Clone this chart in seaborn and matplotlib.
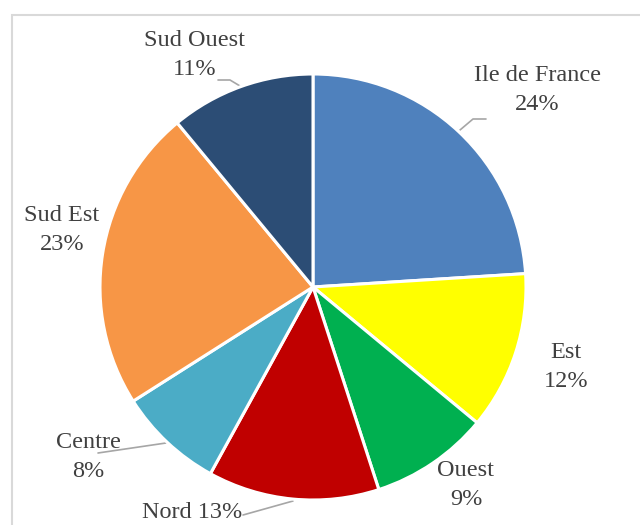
import numpy as np
import matplotlib
matplotlib.use("Agg")
import matplotlib.pyplot as plt
import seaborn as sns
from matplotlib.patches import Rectangle

# data
regions = ["Ile de France", "Est", "Ouest", "Nord", "Centre", "Sud Est", "Sud Ouest"]
shares = [24, 12, 9, 13, 8, 23, 11]
colors = ["#4F81BD", "#FFFF00", "#00B050", "#C00000", "#4BACC6", "#F79646", "#2C4D75"]

sns.set_theme(style="white")
plt.rcParams["font.family"] = ["Liberation Serif", "DejaVu Serif"]

W, H = 640, 525
CX, CY, R = 313, 287, 213

fig = plt.figure(figsize=(W / 100, H / 100), dpi=100)
ax = fig.add_axes([(CX - R) / W, (H - CY - R) / H, 2 * R / W, 2 * R / H])

ax.pie(shares, colors=colors, startangle=90, counterclock=False, radius=1,
       wedgeprops=dict(edgecolor="white", linewidth=2.2))
ax.set_xlim(-1, 1)
ax.set_ylim(-1, 1)
ax.set_aspect("equal")
ax.axis("off")


def px(x, y):
    return (x - CX) / R, (CY - y) / R


# label text centres (pixels) and leader lines
label_pos = {
    "Ile de France": (537, 90, False),
    "Est": (566, 367, False),
    "Ouest": (466, 485, False),
    "Nord": (192, 512, True),
    "Centre": (88, 457, False),
    "Sud Est": (62, 230, False),
    "Sud Ouest": (195, 55, False),
}
leaders = {
    "Ile de France": [(486, 119), (473, 119), (460, 130)],
    "Sud Ouest": [(218, 80), (230, 80), (240, 86)],
    "Centre": [(98, 453), (166, 443)],
    "Nord": [(243, 515), (293, 501)],
}

for name, (lx, ly, one_line) in label_pos.items():
    pct = shares[regions.index(name)]
    txt = f"{name} {pct}%" if one_line else f"{name}\n{pct}%"
    x, y = px(lx, ly)
    ax.text(x, y, txt, ha="center", va="center", fontsize=17.5,
            color="#404040", linespacing=1.45, clip_on=False)

for name, pts in leaders.items():
    xy = np.array([px(*p) for p in pts])
    ax.plot(xy[:, 0], xy[:, 1], color="#A6A6A6", lw=1.2, clip_on=False, zorder=0)

# chart frame
fig.patches.append(Rectangle((12 / W, -0.05), 1.1, (H - 15) / H + 0.05,
                             transform=fig.transFigure, fill=False,
                             edgecolor="#D9D9D9", lw=1.5))

fig.savefig("out.png", dpi=100, facecolor="white")
